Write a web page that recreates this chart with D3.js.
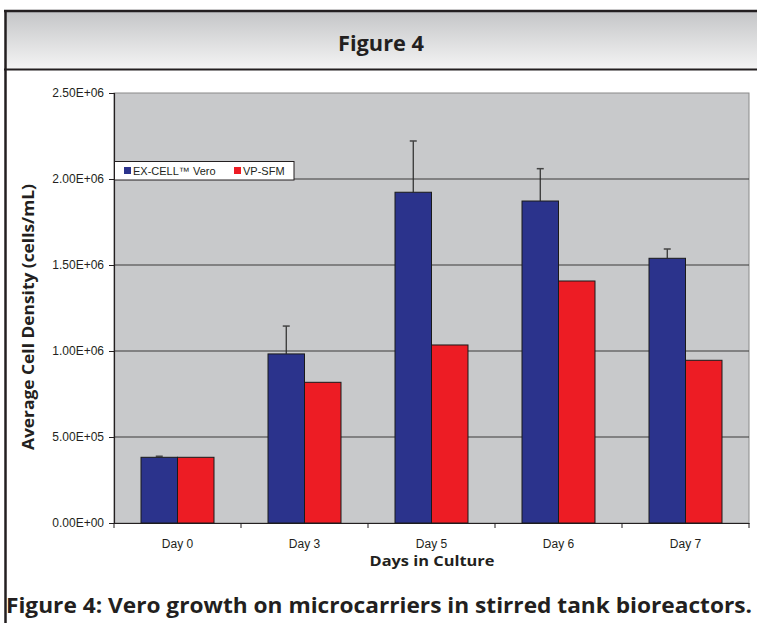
<!DOCTYPE html>
<html>
<head>
<meta charset="utf-8">
<script src="https://cdn.jsdelivr.net/npm/d3@7/dist/d3.min.js"></script>
<style>
  html, body { margin: 0; padding: 0; background: #fff; }
  svg { display: block; }
</style>
</head>
<body>
<svg id="chart" width="757" height="623"></svg>
<script>
// ---- data ----
const days = ["Day 0", "Day 3", "Day 5", "Day 6", "Day 7"];
const seriesNames = ["EX-CELL\u2122 Vero", "VP-SFM"];
const excellVero = [382000, 983000, 1923000, 1872000, 1539000];
const excellVeroErr = [6000, 162000, 298000, 188000, 54000];
const vpSfm = [382000, 818000, 1035000, 1407000, 946000];
const yTicks = [0, 500000, 1000000, 1500000, 2000000, 2500000];
const seriesColors = ["#2b338c", "#ed1c24"];

(function () {
const svg = d3.select("#chart");

// ---- frame & title band ----
const defs = svg.append("defs");
const grad = defs.append("linearGradient").attr("id", "tg").attr("x1", 0).attr("y1", 0).attr("x2", 0).attr("y2", 1);
grad.append("stop").attr("offset", "0%").attr("stop-color", "#c4c5c7");
grad.append("stop").attr("offset", "100%").attr("stop-color", "#f4f4f4");

svg.append("rect").attr("x", 5).attr("y", 11).attr("width", 752).attr("height", 58).attr("fill", "url(#tg)");
svg.append("line").attr("x1", 4).attr("x2", 757).attr("y1", 11).attr("y2", 11).attr("stroke", "#231f20").attr("stroke-width", 2.5);
svg.append("line").attr("x1", 4).attr("x2", 757).attr("y1", 69.5).attr("y2", 69.5).attr("stroke", "#231f20").attr("stroke-width", 2);
svg.append("line").attr("x1", 5.5).attr("x2", 5.5).attr("y1", 10).attr("y2", 623).attr("stroke", "#231f20").attr("stroke-width", 2.5);

svg.append("text").attr("x", 381).attr("y", 51).attr("text-anchor", "middle")
  .attr("font-family", "Open Sans, sans-serif").attr("font-weight", "bold").attr("font-size", 22)
  .attr("fill", "#231f20").attr("textLength", 86).attr("lengthAdjust", "spacingAndGlyphs")
  .text("Figure 4");

// ---- plot ----
const pLeft = 114, pRight = 749, pTop = 93, pBottom = 523;

const y = d3.scaleLinear().domain([0, 2500000]).range([pBottom, pTop]);
const x0 = d3.scaleBand().domain(days).range([pLeft, pRight]).paddingInner(0).paddingOuter(0);
const x1 = d3.scaleBand().domain(seriesNames).range([0, x0.bandwidth()]).paddingInner(0).paddingOuter(0.74);

svg.append("rect").attr("x", pLeft).attr("y", pTop).attr("width", pRight - pLeft).attr("height", pBottom - pTop)
  .attr("fill", "#c8c9cb").attr("stroke", "#8a8a8a").attr("stroke-width", 1);

// gridlines
svg.append("g").selectAll("line").data(yTicks.filter(d => d > 0 && d < 2500000)).join("line")
  .attr("x1", pLeft).attr("x2", pRight).attr("y1", d => y(d)).attr("y2", d => y(d))
  .attr("stroke", "#3a3a3a").attr("stroke-width", 1.2);

function fmtE(v) {
  const s = v.toExponential(2);
  const [m, e] = s.split("e");
  const sign = e[0] === "-" ? "-" : "+";
  const ex = Math.abs(parseInt(e, 10));
  return m + "E" + sign + (ex < 10 ? "0" + ex : "" + ex);
}

// y axis
const yAxis = d3.axisLeft(y).tickValues(yTicks).tickFormat(fmtE).tickSize(5).tickPadding(5);
const gy = svg.append("g").attr("transform", `translate(${pLeft},0)`).call(yAxis);
gy.select(".domain").attr("stroke", "#231f20").attr("stroke-width", 1.2);
gy.selectAll(".tick line").attr("stroke", "#231f20");
gy.selectAll("text").attr("font-family", "Liberation Sans, Arial, sans-serif").attr("font-size", 12).attr("fill", "#231f20");

// x axis
const xAxis = d3.axisBottom(x0).tickSize(0).tickPadding(16);
const gx = svg.append("g").attr("transform", `translate(0,${pBottom})`).call(xAxis);
gx.select(".domain").attr("stroke", "#231f20").attr("stroke-width", 1.2);
gx.selectAll("text").attr("font-family", "Liberation Sans, Arial, sans-serif").attr("font-size", 12).attr("fill", "#231f20");
const bounds = days.map(d => x0(d)).concat([x0(days[days.length - 1]) + x0.bandwidth()]);
svg.append("g").selectAll("line").data(bounds).join("line")
  .attr("x1", d => d).attr("x2", d => d).attr("y1", pBottom).attr("y2", pBottom + 5)
  .attr("stroke", "#231f20").attr("stroke-width", 1);

// bars
const rows = days.map((d, i) => ({ day: d, vals: [excellVero[i], vpSfm[i]], err: excellVeroErr[i] }));
const groups = svg.append("g").selectAll("g").data(rows).join("g")
  .attr("transform", d => `translate(${x0(d.day)},0)`);
groups.selectAll("rect").data(d => d.vals.map((v, j) => ({ name: seriesNames[j], v, j }))).join("rect")
  .attr("x", d => x1(d.name)).attr("width", x1.bandwidth())
  .attr("y", d => y(d.v)).attr("height", d => y(0) - y(d.v))
  .attr("fill", d => seriesColors[d.j]).attr("stroke", "#1a1a1a").attr("stroke-width", 1);

// error bars (upper only)
const cx = x1(seriesNames[0]) + x1.bandwidth() / 2;
const eb = groups.append("g");
eb.append("line")
  .attr("x1", cx).attr("x2", cx)
  .attr("y1", d => y(d.vals[0])).attr("y2", d => y(d.vals[0] + d.err))
  .attr("stroke", "#2a2a2a").attr("stroke-width", 1.2);
eb.append("line")
  .attr("x1", cx - 3.5).attr("x2", cx + 3.5)
  .attr("y1", d => y(d.vals[0] + d.err)).attr("y2", d => y(d.vals[0] + d.err))
  .attr("stroke", "#444").attr("stroke-width", 1.5);

// legend
const lg = svg.append("g");
lg.append("rect").attr("x", 114.5).attr("y", 161.5).attr("width", 179.5).attr("height", 18.5)
  .attr("fill", "#fff").attr("stroke", "#231f20").attr("stroke-width", 1);
const legendX = [124, 234];
seriesNames.forEach((n, i) => {
  lg.append("rect").attr("x", legendX[i]).attr("y", 167).attr("width", 7).attr("height", 7).attr("fill", seriesColors[i]);
  lg.append("text").attr("x", legendX[i] + 9).attr("y", 174.5)
    .attr("font-family", "Liberation Sans, Arial, sans-serif").attr("font-size", 11).attr("fill", "#231f20").text(n);
});

// axis titles
svg.append("text").attr("transform", "translate(34,317) rotate(-90)").attr("text-anchor", "middle")
  .attr("font-family", "Open Sans, sans-serif").attr("font-weight", "bold").attr("font-size", 16)
  .attr("fill", "#231f20").attr("textLength", 266).attr("lengthAdjust", "spacingAndGlyphs")
  .text("Average Cell Density (cells/mL)");
svg.append("text").attr("x", 432).attr("y", 566).attr("text-anchor", "middle")
  .attr("font-family", "Open Sans, sans-serif").attr("font-weight", "bold").attr("font-size", 15)
  .attr("fill", "#231f20").attr("textLength", 125).attr("lengthAdjust", "spacingAndGlyphs")
  .text("Days in Culture");

// caption
svg.append("text").attr("x", 6).attr("y", 613)
  .attr("font-family", "Open Sans, sans-serif").attr("font-weight", "bold").attr("font-size", 21)
  .attr("fill", "#231f20").attr("textLength", 746).attr("lengthAdjust", "spacingAndGlyphs")
  .text("Figure 4: Vero growth on microcarriers in stirred tank bioreactors.");
})();
</script>
</body>
</html>
